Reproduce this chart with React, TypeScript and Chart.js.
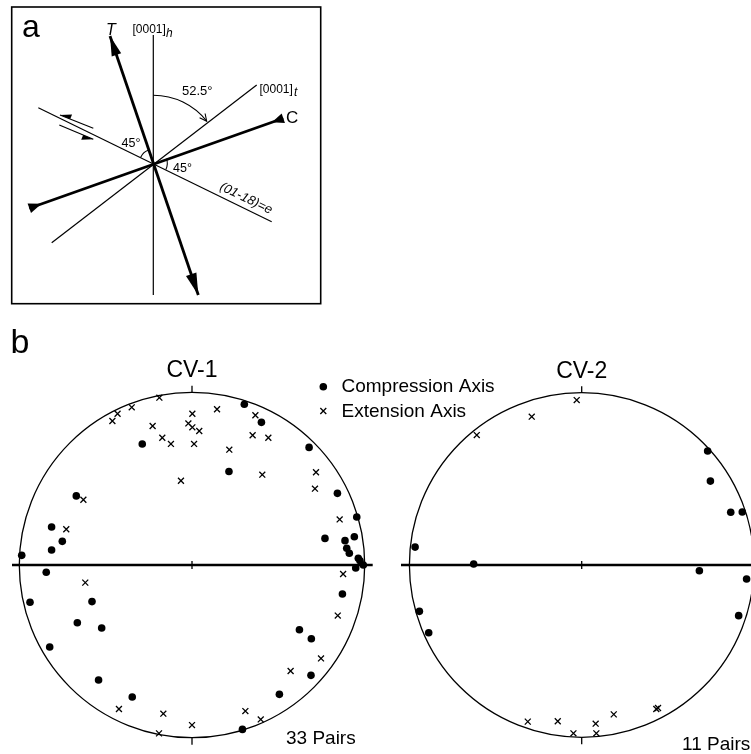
import { useEffect, useRef } from "react";
import { Chart, registerables } from "chart.js";
Chart.register(...registerables);

type P = [number, number];

// ---------- stereonet data (unit-circle coordinates, y up) ----------
const cv1Compression: P[] = [
  [0.303, 0.931], [0.402, 0.826], [-0.288, 0.701], [0.678, 0.681], [0.214, 0.541],
  [-0.67, 0.4], [0.842, 0.415], [-0.813, 0.22], [0.954, 0.278], [-0.751, 0.137],
  [-0.813, 0.087], [0.77, 0.154], [0.886, 0.141], [0.94, 0.164], [0.896, 0.097],
  [0.911, 0.068], [-0.986, 0.056], [0.963, 0.039], [0.973, 0.025], [0.992, 0.0],
  [0.948, -0.017], [-0.844, -0.042], [-0.938, -0.216], [-0.579, -0.212], [0.871, -0.168],
  [-0.664, -0.334], [-0.523, -0.365], [-0.824, -0.475], [0.622, -0.375], [0.691, -0.427],
  [-0.541, -0.666], [0.689, -0.639], [-0.346, -0.764], [0.506, -0.749], [0.292, -0.952],
];
const cv1Extension: P[] = [
  [-0.189, 0.969], [-0.349, 0.913], [-0.431, 0.876], [-0.461, 0.834], [0.002, 0.876],
  [0.145, 0.902], [0.367, 0.867], [-0.228, 0.805], [-0.021, 0.82], [0.002, 0.797],
  [0.042, 0.776], [-0.172, 0.737], [-0.122, 0.701], [0.012, 0.701], [0.351, 0.751],
  [0.442, 0.737], [0.216, 0.668], [-0.064, 0.488], [0.407, 0.523], [0.718, 0.537],
  [0.712, 0.442], [-0.629, 0.378], [-0.728, 0.207], [0.855, 0.264], [0.875, -0.052],
  [-0.618, -0.102], [0.844, -0.293], [0.747, -0.541], [0.571, -0.614], [-0.423, -0.834],
  [-0.166, -0.861], [0.309, -0.846], [0.398, -0.894], [0.0, -0.927], [-0.191, -0.975],
];
const cv2Compression: P[] = [
  [0.731, 0.662], [0.747, 0.487], [0.865, 0.306], [0.932, 0.308], [-0.967, 0.104],
  [-0.627, 0.006], [0.683, -0.033], [0.957, -0.081], [-0.942, -0.269], [-0.888, -0.393],
  [0.911, -0.294],
];
const cv2Extension: P[] = [
  [-0.029, 0.957], [-0.29, 0.861], [-0.609, 0.754], [-0.313, -0.909], [-0.139, -0.907],
  [-0.048, -0.977], [0.081, -0.921], [0.085, -0.977], [0.186, -0.867], [0.433, -0.836],
  [0.443, -0.83],
];
const netTitles = ["CV-1", "CV-2"];
const pairLabels = ["33 Pairs", "11 Pairs"];
const legendLabels = ["Compression Axis", "Extension Axis"];

// ---------- panel a diagram segments (relative to origin, px, y up) ----------
const hAxisSeg: P[] = [[0, 128.3], [0, -131.7]];
const tAxisSeg: P[] = [[-101.6, -79.4], [103.4, 78.3]];
const twinPlaneSeg: P[] = [[-115, 55.6], [118.4, -58.4]];
const tensionSeg: P[] = [[-43.3, 127.3], [45, -131.7]];
const compressionSeg: P[] = [[-124, -45], [130, 45]];
const shearUpperSeg: P[] = [[-93.3, 48.3], [-60, 35]];
const shearLowerSeg: P[] = [[-94, 38.3], [-60, 24]];

// ---------- layout ----------
const W = 751;
const H = 754;
const FONT = '"Liberation Sans", Arial, Helvetica, sans-serif';
const O = { x: 153.3, y: 163.3 };
const BOX = { x0: 11.7, y0: 7, x1: 320.7, y1: 303.7 };
const NETS = [
  { cx: 192, cy: 565, r: 172.7, lineL: 12, lineR: 372.7, titleY: 377, pairsX: 286, pairsY: 743.5 },
  { cx: 581.7, cy: 565, r: 172.3, lineL: 401, lineR: 760, titleY: 378, pairsX: 682, pairsY: 750 },
];
const LEGEND = { x: 323.3, y0: 386.7, y1: 411, textX: 341.5 };

const rel = (p: P) => ({ x: O.x + p[0], y: O.y - p[1] });
const onNet = (n: number, p: P) => ({ x: NETS[n].cx + p[0] * NETS[n].r, y: NETS[n].cy - p[1] * NETS[n].r });

function lineDs(pts: { x: number; y: number }[], width: number) {
  return {
    type: "scatter" as const,
    data: pts,
    showLine: true,
    borderColor: "#000",
    borderWidth: width,
    pointRadius: 0,
    pointHoverRadius: 0,
    fill: false,
    order: 5,
  };
}

function dotDs(pts: { x: number; y: number }[]) {
  return {
    type: "scatter" as const,
    data: pts,
    pointStyle: "circle",
    pointRadius: 3.8,
    backgroundColor: "#000",
    borderColor: "#000",
    borderWidth: 0,
    order: 0,
  };
}

function crossDs(pts: { x: number; y: number }[]) {
  return {
    type: "scatter" as const,
    data: pts,
    pointStyle: "crossRot",
    pointRadius: 4.2,
    backgroundColor: "#000",
    borderColor: "#000",
    borderWidth: 1.3,
    order: 0,
  };
}

const figurePlugin = {
  id: "figure",
  beforeDatasetsDraw(chart: any) {
    const { ctx, scales } = chart;
    const px = (v: number) => scales.x.getPixelForValue(v);
    const py = (v: number) => scales.y.getPixelForValue(v);
    ctx.save();
    ctx.strokeStyle = "#000";
    ctx.lineWidth = 1.6;
    ctx.strokeRect(px(BOX.x0), py(BOX.y0), px(BOX.x1) - px(BOX.x0), py(BOX.y1) - py(BOX.y0));
    ctx.lineWidth = 1.3;
    NETS.forEach((n) => {
      ctx.beginPath();
      ctx.arc(px(n.cx), py(n.cy), px(n.cx + n.r) - px(n.cx), 0, Math.PI * 2);
      ctx.stroke();
    });
    ctx.restore();
  },
  afterDatasetsDraw(chart: any) {
    const { ctx, scales } = chart;
    const px = (v: number) => scales.x.getPixelForValue(v);
    const py = (v: number) => scales.y.getPixelForValue(v);
    const pp = (q: { x: number; y: number }) => ({ x: px(q.x), y: py(q.y) });
    ctx.save();
    ctx.fillStyle = "#000";
    ctx.strokeStyle = "#000";

    const head = (tip: { x: number; y: number }, dx: number, dy: number, L: number, w: number) => {
      const bx = tip.x - dx * L, by = tip.y - dy * L;
      ctx.beginPath();
      ctx.moveTo(tip.x, tip.y);
      ctx.lineTo(bx - dy * w, by + dx * w);
      ctx.lineTo(bx + dy * w, by - dx * w);
      ctx.closePath();
      ctx.fill();
    };
    const unit = (a: { x: number; y: number }, b: { x: number; y: number }) => {
      const d = Math.hypot(b.x - a.x, b.y - a.y);
      return { dx: (b.x - a.x) / d, dy: (b.y - a.y) / d };
    };
    const o = pp(O);
    const t0 = pp(rel(tensionSeg[0])), t1 = pp(rel(tensionSeg[1]));
    let u = unit(o, t0); head(t0, u.dx, u.dy, 20, 5);
    u = unit(o, t1); head(t1, u.dx, u.dy, 22, 5.5);
    const c0 = pp(rel(compressionSeg[0])), c1 = pp(rel(compressionSeg[1]));
    u = unit(o, c0); head({ x: c0.x - u.dx * 13, y: c0.y - u.dy * 13 }, -u.dx, -u.dy, 13, 5);
    u = unit(o, c1); head({ x: c1.x - u.dx * 12, y: c1.y - u.dy * 12 }, -u.dx, -u.dy, 12, 5);

    const harpoon = (tip: { x: number; y: number }, from: { x: number; y: number }, side: number) => {
      const v = unit(from, tip);
      const bx = tip.x - v.dx * 11, by = tip.y - v.dy * 11;
      ctx.beginPath();
      ctx.moveTo(tip.x, tip.y);
      ctx.lineTo(bx, by);
      ctx.lineTo(bx + side * v.dy * 5, by - side * v.dx * 5);
      ctx.closePath();
      ctx.fill();
    };
    harpoon(pp(rel(shearUpperSeg[0])), pp(rel(shearUpperSeg[1])), -1);
    harpoon(pp(rel(shearLowerSeg[1])), pp(rel(shearLowerSeg[0])), -1);

    const ang = (p: P) => Math.atan2(-p[1], p[0]);
    ctx.lineWidth = 1.1;
    const R = px(O.x + 68) - o.x;
    const aStart = -Math.PI / 2;
    const aEnd = ang(tAxisSeg[1]) - 0.02;
    ctx.beginPath();
    ctx.arc(o.x, o.y, R, aStart, aEnd);
    ctx.stroke();
    const ex = o.x + R * Math.cos(aEnd), ey = o.y + R * Math.sin(aEnd);
    const tx = -Math.sin(aEnd), ty = Math.cos(aEnd);
    ctx.beginPath();
    ctx.moveTo(ex - tx * 7 - ty * 3.5, ey - ty * 7 + tx * 3.5);
    ctx.lineTo(ex, ey);
    ctx.lineTo(ex - tx * 7 + ty * 3.5, ey - ty * 7 - tx * 3.5);
    ctx.stroke();
    const r2 = px(O.x + 14) - o.x;
    ctx.beginPath();
    ctx.arc(o.x, o.y, r2, ang(twinPlaneSeg[0]), ang(tensionSeg[0]));
    ctx.stroke();
    ctx.beginPath();
    ctx.arc(o.x, o.y, r2, ang(compressionSeg[1]), ang(twinPlaneSeg[1]));
    ctx.stroke();

    const text = (s: string, x: number, y: number, font: string, align: CanvasTextAlign = "left") => {
      ctx.font = font;
      ctx.textAlign = align;
      ctx.textBaseline = "alphabetic";
      ctx.fillText(s, px(x), py(y));
    };
    text("a", 22, 37, `32px ${FONT}`);
    text("b", 10.5, 353, `34px ${FONT}`);
    text("T", 106, 35, `italic 16px ${FONT}`);
    text("[0001]", 132.5, 33, `12px ${FONT}`);
    text("h", 166, 36.5, `italic 12px ${FONT}`);
    text("[0001]", 259.5, 92.5, `12px ${FONT}`);
    text("t", 294, 95.5, `italic 12px ${FONT}`);
    text("C", 286, 123, `17px ${FONT}`);
    text("52.5°", 182, 95, `13px ${FONT}`);
    text("45°", 121.5, 146.5, `12.5px ${FONT}`);
    text("45°", 173, 172, `12.5px ${FONT}`);
    const e0 = pp(rel(twinPlaneSeg[0])), e1 = pp(rel(twinPlaneSeg[1]));
    const rot = Math.atan2(e1.y - e0.y, e1.x - e0.x);
    ctx.save();
    ctx.translate(px(246), py(198.5));
    ctx.rotate(rot);
    ctx.font = `italic 13px ${FONT}`;
    ctx.textAlign = "center";
    ctx.textBaseline = "middle";
    ctx.fillText("(01-18)=e", 0, 0);
    ctx.restore();

    NETS.forEach((n, i) => {
      text(netTitles[i], n.cx, n.titleY, `23px ${FONT}`, "center");
      text(pairLabels[i], n.pairsX, n.pairsY, `19px ${FONT}`);
    });
    text(legendLabels[0], LEGEND.textX, 392, `19px ${FONT}`);
    text(legendLabels[1], LEGEND.textX, 416.5, `19px ${FONT}`);
    ctx.restore();
  },
};

export default function App() {
  const ref = useRef<HTMLCanvasElement | null>(null);
  useEffect(() => {
    if (!ref.current) return;
    const datasets: any[] = [];
    datasets.push(lineDs(hAxisSeg.map(rel), 1.2));
    datasets.push(lineDs(tAxisSeg.map(rel), 1.2));
    datasets.push(lineDs(twinPlaneSeg.map(rel), 1.2));
    datasets.push(lineDs(shearUpperSeg.map(rel), 1.2));
    datasets.push(lineDs(shearLowerSeg.map(rel), 1.2));
    datasets.push(lineDs(tensionSeg.map(rel), 2.8));
    datasets.push(lineDs(compressionSeg.map(rel), 2.8));
    NETS.forEach((n) => {
      datasets.push(lineDs([{ x: n.lineL, y: n.cy }, { x: n.lineR, y: n.cy }], 2.6));
      datasets.push(lineDs([{ x: n.cx, y: n.cy - n.r - 6.5 }, { x: n.cx, y: n.cy - n.r }], 1.3));
      datasets.push(lineDs([{ x: n.cx, y: n.cy + n.r }, { x: n.cx, y: n.cy + n.r + 7 }], 1.3));
      datasets.push(lineDs([{ x: n.cx, y: n.cy - 4 }, { x: n.cx, y: n.cy + 4 }], 1.3));
    });
    datasets.push({ ...dotDs(cv1Compression.map((p) => onNet(0, p))), label: legendLabels[0] });
    datasets.push({ ...crossDs(cv1Extension.map((p) => onNet(0, p))), label: legendLabels[1] });
    datasets.push(dotDs(cv2Compression.map((p) => onNet(1, p))));
    datasets.push(crossDs(cv2Extension.map((p) => onNet(1, p))));
    datasets.push(dotDs([{ x: LEGEND.x, y: LEGEND.y0 }]));
    datasets.push(crossDs([{ x: LEGEND.x, y: LEGEND.y1 }]));

    const chart = new Chart(ref.current, {
      type: "scatter",
      data: { datasets },
      options: {
        responsive: false,
        animation: false,
        devicePixelRatio: 1,
        layout: { padding: 0, autoPadding: false },
        events: [],
        plugins: { legend: { display: false }, tooltip: { enabled: false } },
        scales: {
          x: { type: "linear", min: 0, max: W, display: false },
          y: { type: "linear", min: 0, max: H, reverse: true, display: false },
        },
      },
      plugins: [figurePlugin],
    });
    return () => chart.destroy();
  }, []);
  return (
    <div style={{ position: "absolute", left: 0, top: 0, width: W, height: H, overflow: "hidden", background: "#fff" }}>
      <canvas ref={ref} width={W} height={H} style={{ display: "block" }} />
    </div>
  );
}
